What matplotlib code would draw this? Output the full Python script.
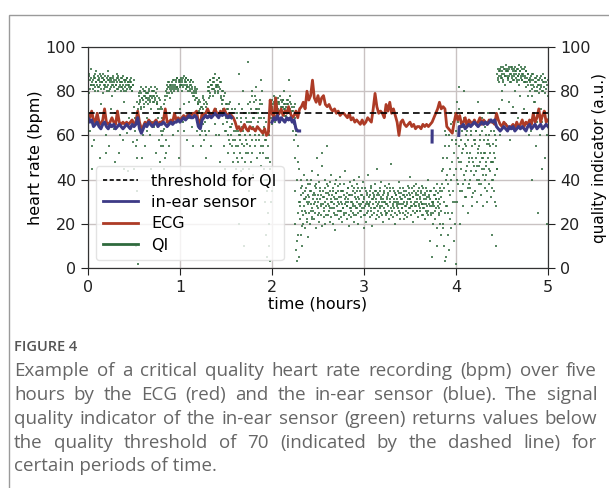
import numpy as np
import matplotlib
matplotlib.use("Agg")
import matplotlib.pyplot as plt
from matplotlib.lines import Line2D
from matplotlib.patches import Rectangle

# ---------------- data ----------------
ecg_step = 0.02  # hours between ECG samples
ecg_hr = [
    70, 68, 71, 67, 66, 70, 66, 65, 67, 72,
    66, 65, 66, 68, 66, 65, 71, 66, 65, 66,
    65, 66, 65, 66, 67, 65, 66, 71, 66, 63,
    64, 66, 65, 67, 66, 65, 66, 67, 65, 66,
    66, 67, 72, 66, 66, 67, 66, 70, 67, 68,
    67, 68, 69, 68, 69, 70, 69, 70, 70, 71,
    66, 65, 70, 69, 70, 72, 70, 69, 70, 72,
    70, 69, 71, 70, 72, 70, 69, 70, 69, 68,
    66, 63, 64, 62, 63, 65, 63, 62, 64, 63,
    63, 62, 64, 63, 62, 61, 63, 60, 61, 76,
    70, 68, 77, 69, 70, 72, 69, 71, 70, 73,
    70, 68, 69, 71, 68, 72, 73, 75, 72, 80,
    76, 78, 85, 77, 75, 78, 74, 77, 78, 74,
    73, 74, 72, 71, 72, 70, 71, 69, 70, 70,
    69, 68, 70, 67, 68, 66, 67, 66, 65, 67,
    65, 66, 68, 67, 66, 72, 79, 73, 70, 71,
    70, 68, 74, 71, 75, 70, 72, 69, 66, 60,
    66, 67, 65, 64, 65, 66, 64, 65, 63, 64,
    64, 63, 65, 64, 65, 64, 65, 66, 68, 70,
    72, 75, 72, 73, 72, 64, 63, 62, 61, 66,
    70, 67, 69, 65, 66, 68, 64, 67, 66, 65,
    67, 65, 66, 68, 65, 67, 66, 65, 67, 66,
    66, 65, 70, 67, 65, 64, 66, 65, 64, 63,
    64, 65, 63, 66, 64, 65, 67, 64, 66, 65,
    67, 65, 70, 66, 68, 72, 66, 69, 71, 66,
    67,
]

nan = float("nan")
inear_time = [
    0.00, 0.02, 0.04, 0.06, 0.08, 0.10, 0.12, 0.14, 0.16, 0.18,
    0.20, 0.22, 0.24, 0.26, 0.28, 0.30, 0.32, 0.34, 0.36, 0.38,
    0.40, 0.42, 0.44, 0.46, 0.48, 0.50, 0.52, 0.54, 0.56, 0.58,
    0.60, 0.62, 0.64, 0.66, 0.68, 0.70, 0.72, 0.74, 0.76, 0.78,
    0.80, 0.82, 0.84, 0.86, 0.88, 0.90, 0.92, 0.94, 0.96, 0.98,
    1.00, 1.02, 1.04, 1.06, 1.08, 1.10, 1.12, 1.14, 1.16, 1.18,
    1.20, 1.22, 1.24, 1.26, 1.28, 1.30, 1.32, 1.34, 1.36, 1.38,
    1.40, 1.42, 1.44, 1.46, 1.48, 1.50, 1.52, 1.54, 1.56,
    1.57,
    2.00, 2.02, 2.04, 2.06, 2.08, 2.10, 2.12, 2.14, 2.16, 2.18,
    2.20, 2.22, 2.24, 2.26, 2.28, 2.30,
    2.31,
    3.74, 3.741,
    3.75,
    4.03, 4.035, 4.06, 4.08, 4.10, 4.12, 4.14, 4.16, 4.18,
    4.20, 4.22, 4.24, 4.26, 4.28, 4.30, 4.32, 4.34, 4.36, 4.38,
    4.40, 4.42, 4.44, 4.46, 4.48, 4.50, 4.52, 4.54, 4.56, 4.58,
    4.60, 4.62, 4.64, 4.66, 4.68, 4.70, 4.72, 4.74, 4.76, 4.78,
    4.80, 4.82, 4.84, 4.86, 4.88, 4.90, 4.92, 4.94, 4.96, 4.98,
    5.00,
]
inear_hr = [
    68, 66, 67, 64, 65, 66, 64, 63, 65, 66,
    64, 63, 65, 64, 65, 63, 64, 65, 64, 63,
    64, 65, 64, 63, 65, 64, 65, 68, 63, 61,
    63, 65, 64, 66, 65, 64, 65, 66, 64, 65,
    65, 66, 65, 64, 65, 66, 65, 66, 66, 67,
    66, 67, 68, 67, 68, 69, 68, 68, 69, 68,
    64, 63, 67, 68, 69, 68, 69, 68, 69, 70,
    69, 68, 70, 69, 70, 69, 68, 69, 68,
    nan,
    66, 68, 67, 69, 66, 68, 67, 66, 68, 67,
    68, 66, 67, 63, 62, 62,
    nan,
    57, 62,
    nan,
    60, 64, 64, 65, 63, 64, 65, 64, 65,
    66, 65, 64, 65, 66, 65, 66, 65, 66, 67,
    66, 67, 64, 63, 62, 63, 64, 63, 62, 64,
    63, 64, 62, 63, 64, 63, 64, 63, 62, 64,
    65, 63, 64, 65, 63, 64, 65, 63, 64, 65,
    64,
]

qi_bin = 0.05  # hours per row of QI samples
qi_rows = [
    [86, 82, 88, 79, 85, 62, 83, 90, 45, 84],
    [85, 81, 87, 83, 58, 86, 80, 84, 89, 70],
    [83, 87, 80, 85, 82, 50, 88, 84, 65, 81],
    [86, 84, 79, 88, 83, 85, 40, 82, 87, 60],
    [84, 80, 86, 83, 89, 55, 85, 81, 84, 72],
    [82, 86, 84, 78, 87, 83, 63, 85, 80, 48],
    [85, 83, 88, 81, 84, 67, 86, 82, 52, 84],
    [83, 86, 80, 84, 82, 87, 58, 81, 85, 75],
    [84, 82, 85, 80, 86, 61, 83, 84, 44, 82],
    [83, 85, 81, 84, 82, 66, 80, 83, 57, 85],
    [70, 45, 30, 62, 10, 55, 75, 50, 2, 66],
    [78, 74, 80, 76, 65, 79, 72, 50, 77, 81],
    [76, 80, 73, 78, 55, 79, 75, 82, 68, 77],
    [79, 74, 77, 81, 60, 76, 78, 72, 45, 80],
    [77, 80, 75, 78, 64, 82, 76, 52, 79, 74],
    [75, 78, 72, 68, 58, 70, 76, 48, 62, 73],
    [60, 72, 55, 66, 40, 70, 63, 50, 76, 58],
    [80, 83, 78, 82, 65, 84, 79, 55, 81, 77],
    [82, 80, 84, 79, 83, 60, 81, 85, 70, 82],
    [83, 81, 85, 82, 86, 62, 80, 84, 50, 83],
    [84, 82, 86, 83, 80, 85, 66, 83, 87, 74],
    [83, 85, 81, 86, 84, 58, 82, 85, 80, 68],
    [82, 84, 80, 83, 85, 81, 64, 79, 84, 55],
    [80, 78, 82, 76, 79, 70, 81, 62, 77, 75],
    [74, 70, 76, 60, 72, 65, 55, 73, 68, 77],
    [72, 65, 74, 58, 70, 62, 75, 50, 68, 71],
    [80, 84, 77, 82, 62, 85, 79, 83, 55, 81],
    [83, 78, 86, 81, 84, 65, 80, 88, 72, 82],
    [82, 85, 79, 83, 60, 86, 81, 48, 84, 77],
    [78, 74, 80, 65, 76, 55, 72, 79, 45, 70],
    [70, 62, 74, 66, 52, 72, 68, 58, 75, 64],
    [68, 60, 72, 55, 65, 48, 70, 62, 40, 66],
    [58, 65, 45, 70, 50, 62, 38, 55, 88, 20],
    [60, 52, 68, 44, 72, 56, 30, 62, 80, 10],
    [55, 64, 48, 70, 58, 40, 66, 52, 93, 35],
    [62, 70, 55, 75, 48, 66, 58, 80, 42, 68],
    [68, 75, 60, 78, 55, 72, 82, 50, 64, 70],
    [64, 72, 58, 76, 52, 68, 85, 46, 62, 74],
    [60, 55, 68, 45, 62, 30, 58, 15, 50, 5],
    [40, 25, 55, 10, 60, 3, 45, 70, 30, 65],
    [72, 76, 70, 74, 68, 78, 73, 66, 75, 71],
    [74, 70, 77, 72, 69, 75, 71, 78, 66, 73],
    [71, 75, 68, 73, 76, 70, 74, 80, 67, 72],
    [73, 69, 76, 71, 74, 68, 72, 85, 70, 75],
    [72, 70, 74, 66, 71, 62, 69, 73, 58, 68],
    [50, 20, 62, 8, 40, 3, 55, 15, 30, 45],
    [30, 22, 36, 15, 40, 26, 10, 34, 20, 42],
    [28, 35, 18, 32, 25, 40, 22, 30, 14, 38],
    [32, 25, 38, 20, 29, 35, 23, 44, 27, 33],
    [26, 34, 22, 37, 30, 18, 36, 28, 50, 24],
    [33, 27, 39, 21, 31, 36, 24, 29, 46, 19],
    [29, 35, 23, 32, 26, 40, 20, 34, 28, 55],
    [31, 24, 37, 28, 33, 21, 35, 27, 42, 30],
    [27, 33, 20, 36, 29, 25, 38, 31, 17, 34],
    [34, 28, 24, 37, 30, 22, 32, 41, 26, 35],
    [26, 32, 29, 21, 35, 27, 38, 24, 31, 44],
    [30, 25, 34, 28, 22, 36, 31, 19, 33, 27],
    [33, 27, 23, 37, 30, 25, 35, 29, 40, 21],
    [28, 34, 31, 24, 38, 27, 32, 20, 36, 29],
    [31, 26, 35, 29, 23, 33, 27, 39, 30, 18],
    [27, 32, 24, 36, 29, 21, 34, 30, 42, 26],
    [32, 28, 35, 23, 30, 37, 26, 31, 19, 34],
    [29, 33, 25, 38, 27, 31, 22, 35, 28, 45],
    [34, 26, 30, 23, 36, 28, 32, 25, 39, 30],
    [28, 33, 21, 35, 30, 26, 37, 29, 24, 32],
    [31, 25, 34, 28, 38, 22, 30, 35, 27, 47],
    [26, 32, 29, 36, 23, 31, 27, 34, 20, 30],
    [33, 28, 24, 35, 30, 26, 39, 29, 32, 22],
    [29, 34, 27, 31, 25, 36, 22, 30, 33, 28],
    [32, 26, 35, 29, 23, 31, 37, 27, 34, 41],
    [27, 33, 30, 24, 36, 28, 32, 21, 35, 29],
    [30, 25, 34, 28, 38, 31, 26, 33, 23, 36],
    [28, 32, 26, 35, 30, 24, 37, 29, 33, 27],
    [31, 27, 34, 22, 29, 36, 25, 32, 28, 40],
    [26, 33, 29, 12, 31, 24, 35, 28, 5, 30],
    [30, 25, 36, 28, 33, 22, 31, 27, 38, 18],
    [28, 34, 24, 31, 27, 36, 20, 32, 26, 44],
    [35, 20, 45, 10, 30, 55, 25, 3, 40, 60],
    [28, 50, 15, 38, 60, 8, 33, 45, 22, 65],
    [40, 58, 25, 66, 35, 12, 52, 30, 70, 2],
    [45, 62, 30, 75, 50, 38, 82, 55, 20, 68],
    [48, 58, 35, 70, 52, 28, 64, 42, 80, 56],
    [40, 55, 32, 62, 46, 25, 58, 70, 38, 50],
    [52, 36, 60, 44, 28, 55, 48, 66, 34, 58],
    [42, 58, 35, 50, 62, 30, 46, 54, 75, 38],
    [55, 40, 48, 60, 33, 52, 45, 68, 28, 50],
    [45, 58, 36, 52, 64, 42, 48, 30, 56, 70],
    [50, 38, 60, 44, 55, 32, 48, 62, 40, 15],
    [48, 56, 35, 62, 42, 50, 28, 58, 10, 45],
    [88, 85, 90, 72, 87, 89, 60, 86, 91, 80],
    [89, 86, 91, 84, 88, 70, 90, 87, 65, 92],
    [87, 90, 85, 89, 86, 75, 91, 88, 58, 84],
    [88, 91, 86, 89, 73, 87, 90, 85, 62, 89],
    [86, 89, 84, 90, 87, 68, 88, 85, 92, 78],
    [89, 86, 91, 85, 88, 64, 87, 90, 72, 84],
    [87, 84, 89, 82, 86, 70, 88, 83, 60, 85],
    [84, 80, 87, 62, 85, 78, 40, 83, 88, 70],
    [82, 86, 75, 84, 55, 80, 87, 66, 83, 25],
    [83, 79, 86, 60, 82, 72, 85, 45, 80, 88],
    [80, 84, 70, 86, 50, 81, 65, 83, 20, 78],
]
qi_rows_extra = [
    [84, 87, 81, 86, 83, 55], [83, 86, 82, 88, 84, 66], [85, 82, 86, 83, 87, 74],
    [84, 86, 81, 85, 83, 52], [82, 85, 87, 80, 86, 64], [85, 83, 86, 82, 84, 70],
    [83, 86, 81, 87, 85, 60], [84, 82, 86, 83, 80, 45], [85, 83, 86, 81, 84, 68],
    [84, 82, 86, 80, 83, 73], [40, 68, 20, 58, 35, 72], [79, 75, 82, 73, 77, 60],
    [78, 74, 80, 77, 62, 79], [76, 80, 78, 75, 82, 66], [78, 75, 80, 77, 70, 81],
    [74, 70, 77, 65, 72, 55], [68, 62, 74, 45, 78, 52], [81, 79, 84, 82, 70, 83],
    [83, 81, 85, 82, 80, 66], [84, 82, 86, 81, 85, 72], [85, 83, 84, 86, 82, 62],
    [84, 86, 82, 83, 85, 75], [83, 81, 85, 82, 78, 70], [79, 81, 77, 80, 66, 74],
    [71, 75, 67, 73, 62, 78], [70, 76, 66, 73, 60, 74], [82, 80, 85, 78, 83, 70],
    [84, 81, 86, 79, 83, 60], [83, 80, 86, 82, 70, 84], [76, 80, 72, 78, 62, 74],
    [68, 72, 60, 70, 74, 56], [64, 70, 58, 68, 52, 72], [62, 55, 68, 48, 74, 60],
    [58, 66, 50, 64, 45, 70], [60, 52, 68, 56, 74, 45], [66, 60, 72, 52, 78, 64],
    [70, 62, 76, 58, 72, 66], [68, 60, 74, 55, 70, 80], [52, 64, 40, 58, 66, 35],
    [50, 62, 20, 48, 68, 35], [73, 70, 75, 71, 77, 69], [72, 75, 70, 74, 71, 76],
    [73, 70, 76, 72, 69, 74], [71, 74, 70, 76, 72, 78], [70, 73, 68, 71, 65, 74],
    [35, 60, 12, 48, 25, 5], [28, 33, 19, 37, 24, 31], [31, 26, 36, 21, 33, 29],
    [30, 35, 26, 40, 22, 31], [29, 33, 25, 38, 31, 42], [30, 25, 35, 28, 33, 52],
    [32, 27, 36, 30, 24, 38], [29, 34, 26, 39, 31, 23], [30, 35, 27, 32, 24, 40],
    [31, 26, 35, 29, 38, 23], [30, 35, 27, 33, 25, 29], [32, 28, 36, 30, 24, 39],
    [30, 26, 33, 28, 36, 24], [32, 27, 35, 30, 25, 41], [28, 33, 26, 36, 30, 24],
    [31, 28, 35, 25, 33, 29], [29, 33, 27, 36, 24, 31], [32, 27, 35, 30, 24, 33],
    [29, 33, 27, 35, 31, 24], [31, 27, 34, 30, 25, 36], [29, 33, 26, 31, 36, 24],
    [32, 28, 35, 30, 25, 33], [29, 31, 27, 34, 25, 36], [31, 27, 33, 29, 35, 24],
    [28, 33, 30, 25, 36, 31], [31, 28, 34, 26, 32, 37], [28, 33, 30, 26, 35, 29],
    [31, 27, 34, 29, 24, 36], [29, 33, 26, 31, 35, 24], [32, 28, 35, 25, 30, 20],
    [29, 33, 26, 35, 31, 10], [30, 25, 35, 29, 15, 38], [50, 18, 36, 62, 28, 5],
    [42, 25, 55, 35, 70, 18], [48, 30, 62, 42, 20, 56], [58, 40, 66, 48, 72, 35],
    [45, 62, 38, 54, 68, 32], [60, 44, 52, 36, 66, 48], [40, 62, 50, 32, 70, 46],
    [56, 44, 62, 40, 52, 66], [46, 58, 38, 62, 50, 42], [52, 40, 60, 46, 35, 58],
    [56, 45, 52, 66, 36, 48], [40, 52, 60, 30, 55, 45], [86, 89, 84, 90, 87, 76],
    [88, 85, 90, 87, 83, 89], [89, 86, 90, 87, 84, 91], [87, 90, 85, 88, 91, 80],
    [88, 85, 90, 87, 83, 89], [87, 90, 85, 88, 84, 91], [86, 89, 84, 88, 78, 85],
    [86, 83, 88, 81, 85, 75], [84, 80, 86, 82, 70, 85], [85, 81, 87, 83, 66, 84],
    [82, 86, 79, 84, 60, 85],
]

qi_threshold = 70
x_ticks = [0, 1, 2, 3, 4, 5]
y_ticks = [0, 20, 40, 60, 80, 100]

caption_title = "FIGURE 4"
caption_lines = [
    "Example of a critical quality heart rate recording (bpm) over five",
    "hours by the ECG (red) and the in-ear sensor (blue). The signal",
    "quality indicator of the in-ear sensor (green) returns values below",
    "the quality threshold of 70 (indicated by the dashed line) for",
    "certain periods of time.",
]

# ---------------- figure ----------------
W, H = 609, 488
fig = plt.figure(figsize=(W / 100, H / 100), dpi=100)

# card border
fig.patches.append(Rectangle((9 / W, -0.05), 1.2, 1 - 15 / H + 0.05,
                             transform=fig.transFigure, fill=False,
                             edgecolor="#9a9a9a", linewidth=1.0))

ax = fig.add_axes([88 / W, 1 - 268 / H, (548 - 88) / W, (268 - 47) / H])

c_qi = "#2f6a3d"
c_ecg = "#ad3b26"
c_ear = "#3d3a86"

ecg_t = np.arange(len(ecg_hr)) * ecg_step


def row_points(rows, offset_frac):
    arr = np.array(rows, dtype=float)
    nr, nc = arr.shape
    t = (np.arange(nr)[:, None] * qi_bin
         + (np.arange(nc)[None, :] + offset_frac) * (qi_bin / nc))
    return t.ravel(), arr.ravel()


t1, v1 = row_points(qi_rows, 0.0)
t2, v2 = row_points(qi_rows_extra, 0.5)
qi_t = np.concatenate([t1, t2])
qi_v = np.concatenate([v1, v2])

ax.scatter(qi_t, qi_v, s=2.6, marker="s", color=c_qi, alpha=0.8,
           linewidths=0, zorder=1)
ax.plot(ecg_t, ecg_hr, color=c_ecg, lw=2.0, zorder=2)
ax.plot(inear_time, inear_hr, color=c_ear, lw=2.2, zorder=3)
ax.axhline(qi_threshold, color="black", lw=1.2, ls=(0, (4, 2.5)), zorder=4)

ax.set_xlim(0, 5)
ax.set_ylim(0, 100)
ax.set_xticks(x_ticks)
ax.set_yticks(y_ticks)
ax.grid(True, color="#c9c2c2", lw=1.0)
ax.set_axisbelow(True)
ax.tick_params(labelsize=11.5, colors="#222222", length=5)
ax.set_xlabel("time (hours)", fontsize=11.5, labelpad=1)
ax.set_ylabel("heart rate (bpm)", fontsize=11.5, labelpad=2)
for s in ax.spines.values():
    s.set_color("#333333")

ax2 = ax.twinx()
ax2.set_ylim(0, 100)
ax2.set_yticks(y_ticks)
ax2.tick_params(labelsize=11.5, colors="#222222", length=5)
ax2.set_ylabel("quality indicator (a.u.)", fontsize=11, labelpad=1)
for s in ax2.spines.values():
    s.set_color("#333333")

handles = [
    Line2D([], [], color="black", lw=1.2, ls=(0, (2.5, 1.5))),
    Line2D([], [], color=c_ear, lw=2),
    Line2D([], [], color=c_ecg, lw=2),
    Line2D([], [], color=c_qi, lw=2),
]
labels = ["threshold for QI", "in-ear sensor", "ECG", "QI"]
leg = ax2.legend(handles, labels, loc="lower left", fontsize=11.5,
                 framealpha=0.8, borderaxespad=0.5, handlelength=2.2,
                 labelspacing=0.4, borderpad=0.45)
leg.get_frame().set_edgecolor("#dddddd")
leg.set_zorder(10)

# ---------------- caption ----------------
fig.text(14 / W, 1 - 347 / H, caption_title, fontsize=10.5, color="#555555",
         family="Open Sans", fontweight="semibold", va="center", ha="left")

fig.canvas.draw()
renderer = fig.canvas.get_renderer()
x0, x1 = 14, 597
line_y = [371, 395, 419, 443, 466]
cap_kw = dict(fontsize=13.5, color="#666666", family="Open Sans", va="center", ha="left")
for i, line in enumerate(caption_lines):
    y = 1 - line_y[i] / H
    if i == len(caption_lines) - 1:
        fig.text(x0 / W, y, line, **cap_kw)
        continue
    words = line.split(" ")
    texts = [fig.text(0, y, w, **cap_kw) for w in words]
    widths = [t.get_window_extent(renderer).width for t in texts]
    gap = (x1 - x0 - sum(widths)) / (len(words) - 1)
    x = x0
    for t, w in zip(texts, widths):
        t.set_x(x / W)
        x += w + gap

fig.savefig("out.png", dpi=100)
